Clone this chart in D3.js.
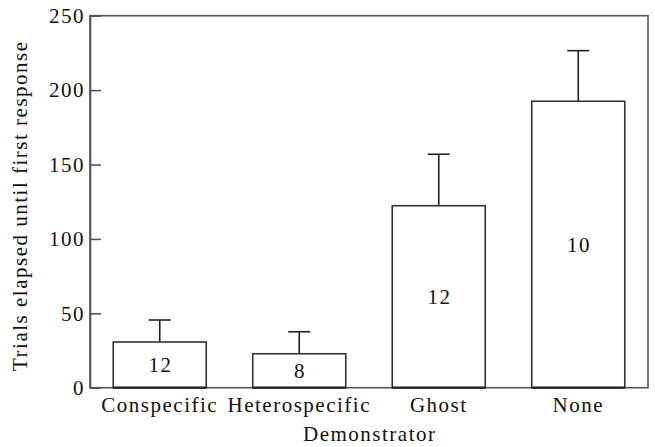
<!DOCTYPE html>
<html><head><meta charset="utf-8">
<script src="https://cdn.jsdelivr.net/npm/d3@7"></script>
<style>body{margin:0;background:#fff}</style>
</head><body><svg id="c" width="655" height="447"></svg>
<script>
const categories = ["Conspecific", "Heterospecific", "Ghost", "None"];
const means = [30.7, 22.8, 122.3, 192.5];
const errTops = [45.5, 37.6, 156.9, 226.5];
const nLabels = ["12", "8", "12", "10"];
const yTicks = [0, 50, 100, 150, 200, 250];

const font = "'Liberation Serif', serif";
const fs = 21, ls = 1.5;
const svg = d3.select("#c");
const m = {l: 90, r: 7, t: 15.7, b: 59.3};
const W = 655, H = 447;
const x = d3.scaleBand().domain(categories).range([m.l, W - m.r]).paddingInner(1/3).paddingOuter(1/6);
const y = d3.scaleLinear().domain([0, 250]).range([H - m.b, m.t]);

function styleText(sel) {
  sel.style("font-family", font).style("font-size", fs + "px").style("letter-spacing", ls + "px").attr("fill", "#111");
}

// frame
svg.append("rect").attr("x", m.l).attr("y", m.t).attr("width", W - m.r - m.l).attr("height", H - m.b - m.t)
  .attr("fill", "none").attr("stroke", "#555").attr("stroke-width", 1.6);

// y axis
const ya = svg.append("g").attr("transform", `translate(${m.l},0)`)
  .call(d3.axisLeft(y).tickValues(yTicks).tickSizeInner(-11).tickSizeOuter(0).tickPadding(5));
ya.select(".domain").attr("stroke", "#555").attr("stroke-width", 1.6);
ya.selectAll(".tick line").attr("stroke", "#555").attr("stroke-width", 1.6);
styleText(ya.selectAll(".tick text"));

// x axis labels
const xa = svg.append("g").attr("transform", `translate(0,${H - m.b})`)
  .call(d3.axisBottom(x).tickSize(0).tickPadding(9.5));
xa.select(".domain").remove();
styleText(xa.selectAll(".tick text"));

// error bars
const capW = 22;
categories.forEach((c, i) => {
  const cx = x(c) + x.bandwidth() / 2;
  svg.append("line").attr("x1", cx).attr("x2", cx).attr("y1", y(means[i])).attr("y2", y(errTops[i]))
    .attr("stroke", "#222").attr("stroke-width", 1.6);
  svg.append("line").attr("x1", cx - capW/2).attr("x2", cx + capW/2).attr("y1", y(errTops[i])).attr("y2", y(errTops[i]))
    .attr("stroke", "#222").attr("stroke-width", 1.6);
});

// bars
svg.selectAll("rect.bar").data(categories).enter().append("rect").attr("class", "bar")
  .attr("x", d => x(d)).attr("width", x.bandwidth())
  .attr("y", (d, i) => y(means[i])).attr("height", (d, i) => y(0) - y(means[i]))
  .attr("fill", "#fff").attr("stroke", "#333").attr("stroke-width", 1.6);
svg.selectAll("line.base").data(categories).enter().append("line").attr("class", "base")
  .attr("x1", d => x(d)).attr("x2", d => x(d) + x.bandwidth()).attr("y1", y(0)).attr("y2", y(0))
  .attr("stroke", "#222").attr("stroke-width", 2.2);

// n labels
const nl = svg.selectAll("text.n").data(categories).enter().append("text").attr("class", "n")
  .attr("x", d => x(d) + x.bandwidth() / 2 + ls / 2)
  .attr("y", (d, i) => (y(means[i]) + y(0)) / 2)
  .attr("dy", "0.35em").attr("text-anchor", "middle")
  .text((d, i) => nLabels[i]);
styleText(nl);

// axis titles
styleText(svg.append("text").attr("x", (m.l + W - m.r) / 2 + ls / 2).attr("y", 441).attr("text-anchor", "middle")
  .text("Demonstrator"));
styleText(svg.append("text").attr("transform", `translate(27,${(m.t + H - m.b) / 2 + 4}) rotate(-90)`)
  .attr("text-anchor", "middle")
  .text("Trials elapsed until first response"));
</script></body></html>
